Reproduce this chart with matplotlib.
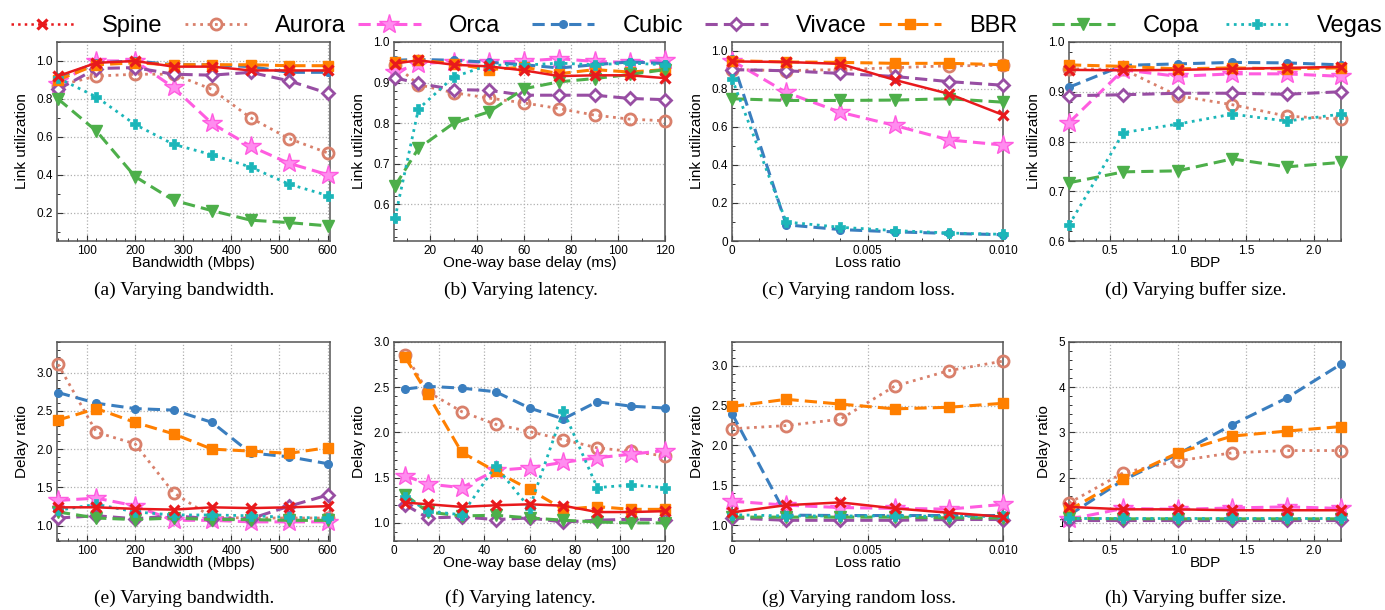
import matplotlib
matplotlib.use("Agg")
import matplotlib.pyplot as plt
from matplotlib.lines import Line2D
from matplotlib.ticker import MultipleLocator, FuncFormatter

plt.rcParams['font.family'] = ['Liberation Sans', 'DejaVu Sans']

# ---------------- data ----------------
names = ["Spine", "Aurora", "Orca", "Cubic", "Vivace", "BBR", "Copa", "Vegas"]

bw = [40, 120, 200, 280, 360, 440, 520, 600]
lat = [5, 15, 30, 45, 60, 75, 90, 105, 120]
loss = [0, 0.002, 0.004, 0.006, 0.008, 0.010]
bdp = [0.2, 0.6, 1.0, 1.4, 1.8, 2.2]

# (a) utilization vs bandwidth
util_bw = {
    "Spine":  [0.92, 0.99, 1.00, 0.97, 0.97, 0.95, 0.95, 0.95],
    "Aurora": [0.87, 0.92, 0.93, 0.93, 0.85, 0.70, 0.59, 0.515],
    "Orca":   [0.88, 1.00, 1.00, 0.86, 0.67, 0.55, 0.46, 0.40],
    "Cubic":  [0.91, 0.99, 1.00, 0.98, 0.98, 0.97, 0.94, 0.94],
    "Vivace": [0.85, 0.96, 0.965, 0.93, 0.925, 0.94, 0.895, 0.83],
    "BBR":    [0.90, 0.98, 0.99, 0.98, 0.98, 0.98, 0.975, 0.975],
    "Copa":   [0.80, 0.63, 0.39, 0.265, 0.21, 0.16, 0.147, 0.13],
    "Vegas":  [0.91, 0.81, 0.665, 0.56, 0.505, 0.44, 0.35, 0.29],
}
# (b) utilization vs latency
util_lat = {
    "Spine":  [0.947, 0.955, 0.944, 0.940, 0.930, 0.916, 0.918, 0.918, 0.911],
    "Aurora": [0.944, 0.895, 0.875, 0.862, 0.850, 0.836, 0.820, 0.810, 0.806],
    "Orca":   [0.925, 0.947, 0.951, 0.950, 0.953, 0.959, 0.952, 0.950, 0.955],
    "Cubic":  [0.955, 0.957, 0.955, 0.950, 0.944, 0.936, 0.944, 0.951, 0.947],
    "Vivace": [0.912, 0.898, 0.883, 0.881, 0.869, 0.869, 0.869, 0.861, 0.858],
    "BBR":    [0.951, 0.955, 0.947, 0.932, 0.938, 0.922, 0.932, 0.926, 0.932],
    "Copa":   [0.645, 0.738, 0.800, 0.828, 0.885, 0.902, 0.910, 0.920, 0.932],
    "Vegas":  [0.566, 0.835, 0.914, 0.943, 0.943, 0.948, 0.944, 0.948, 0.944],
}
# (c) utilization vs random loss
util_loss = {
    "Spine":  [0.943, 0.940, 0.930, 0.846, 0.773, 0.662],
    "Aurora": [0.900, 0.895, 0.900, 0.910, 0.920, 0.922],
    "Orca":   [0.947, 0.780, 0.676, 0.607, 0.531, 0.504],
    "Cubic":  [0.955, 0.085, 0.060, 0.048, 0.040, 0.033],
    "Vivace": [0.900, 0.894, 0.880, 0.864, 0.837, 0.818],
    "BBR":    [0.947, 0.940, 0.938, 0.933, 0.933, 0.926],
    "Copa":   [0.747, 0.738, 0.738, 0.740, 0.747, 0.729],
    "Vegas":  [0.853, 0.100, 0.072, 0.055, 0.042, 0.035],
}
# (d) utilization vs buffer size
util_buf = {
    "Spine":  [0.944, 0.943, 0.944, 0.946, 0.948, 0.950],
    "Aurora": [0.946, 0.945, 0.892, 0.874, 0.851, 0.845],
    "Orca":   [0.838, 0.944, 0.931, 0.936, 0.936, 0.931],
    "Cubic":  [0.909, 0.953, 0.956, 0.959, 0.958, 0.954],
    "Vivace": [0.892, 0.894, 0.897, 0.897, 0.895, 0.900],
    "BBR":    [0.954, 0.951, 0.946, 0.948, 0.946, 0.948],
    "Copa":   [0.717, 0.739, 0.741, 0.765, 0.749, 0.758],
    "Vegas":  [0.632, 0.818, 0.835, 0.855, 0.841, 0.855],
}
# (e) delay ratio vs bandwidth
delay_bw = {
    "Spine":  [1.24, 1.24, 1.22, 1.21, 1.24, 1.23, 1.24, 1.255],
    "Aurora": [3.11, 2.22, 2.07, 1.43, 1.11, 1.10, 1.10, 1.10],
    "Orca":   [1.33, 1.36, 1.26, 1.07, 1.07, 1.05, 1.05, 1.05],
    "Cubic":  [2.74, 2.60, 2.53, 2.51, 2.35, 1.95, 1.90, 1.81],
    "Vivace": [1.10, 1.13, 1.09, 1.13, 1.09, 1.09, 1.255, 1.40],
    "BBR":    [2.38, 2.53, 2.35, 2.20, 2.00, 1.975, 1.945, 2.02],
    "Copa":   [1.18, 1.10, 1.08, 1.10, 1.08, 1.08, 1.07, 1.07],
    "Vegas":  [1.20, 1.28, 1.18, 1.14, 1.14, 1.13, 1.11, 1.10],
}
# (f) delay ratio vs latency
delay_lat = {
    "Spine":  [1.225, 1.206, 1.177, 1.195, 1.206, 1.19, 1.12, 1.12, 1.13],
    "Aurora": [2.86, 2.45, 2.23, 2.09, 2.01, 1.92, 1.83, 1.79, 1.74],
    "Orca":   [1.52, 1.43, 1.39, 1.58, 1.61, 1.67, 1.72, 1.76, 1.80],
    "Cubic":  [2.48, 2.51, 2.49, 2.45, 2.27, 2.15, 2.34, 2.29, 2.27],
    "Vivace": [1.20, 1.055, 1.066, 1.037, 1.055, 1.01, 1.03, 1.04, 1.037],
    "BBR":    [2.83, 2.42, 1.78, 1.57, 1.37, 1.15, 1.18, 1.15, 1.15],
    "Copa":   [1.31, 1.12, 1.077, 1.085, 1.055, 1.03, 1.01, 1.00, 1.00],
    "Vegas":  [1.29, 1.13, 1.09, 1.63, 1.165, 2.24, 1.39, 1.42, 1.39],
}
# (g) delay ratio vs random loss
delay_loss = {
    "Spine":  [1.16, 1.25, 1.285, 1.21, 1.155, 1.105],
    "Aurora": [2.21, 2.25, 2.33, 2.745, 2.94, 3.06],
    "Orca":   [1.30, 1.25, 1.22, 1.21, 1.20, 1.26],
    "Cubic":  [2.40, 1.125, 1.12, 1.12, 1.12, 1.12],
    "Vivace": [1.09, 1.06, 1.06, 1.06, 1.07, 1.07],
    "BBR":    [2.49, 2.58, 2.52, 2.46, 2.48, 2.53],
    "Copa":   [1.10, 1.10, 1.10, 1.10, 1.09, 1.09],
    "Vegas":  [1.13, 1.115, 1.115, 1.115, 1.11, 1.11],
}
# (h) delay ratio vs buffer size
delay_buf = {
    "Spine":  [1.355, 1.30, 1.30, 1.28, 1.28, 1.28],
    "Aurora": [1.44, 2.11, 2.37, 2.55, 2.60, 2.60],
    "Orca":   [1.08, 1.32, 1.30, 1.33, 1.355, 1.32],
    "Cubic":  [1.17, 1.95, 2.52, 3.17, 3.76, 4.51],
    "Vivace": [1.07, 1.07, 1.07, 1.07, 1.07, 1.07],
    "BBR":    [1.28, 1.98, 2.55, 2.92, 3.03, 3.13],
    "Copa":   [1.10, 1.09, 1.09, 1.09, 1.09, 1.09],
    "Vegas":  [1.10, 1.10, 1.10, 1.10, 1.10, 1.10],
}

captions = ["(a) Varying bandwidth.", "(b) Varying latency.",
            "(c) Varying random loss.", "(d) Varying buffer size.",
            "(e) Varying bandwidth.", "(f) Varying latency.",
            "(g) Varying random loss.", "(h) Varying buffer size."]

# ---------------- styles ----------------
styles = {
    "Spine":  dict(color="#e8191c", ls="-", marker="x", ms=7.5, mew=2.3, lw=1.8),
    "Aurora": dict(color="#d9806b", ls=":", marker="o", ms=8, mew=2.0, mfc="none", lw=2.0),
    "Orca":   dict(color="#ff5ce0", ls=(0, (4, 2)), marker="*", ms=15, mew=1.0,
                   mfc="#ff8cef", lw=2.2),
    "Cubic":  dict(color="#3a7ebf", ls=(0, (4, 2)), marker="o", ms=5.5, lw=2.2),
    "Vivace": dict(color="#984ea3", ls=(0, (4, 2)), marker="D", ms=6.5, mew=2.0,
                   mfc="white", lw=2.2),
    "BBR":    dict(color="#ff7f00", ls=(0, (4, 2)), marker="s", ms=7, lw=2.2),
    "Copa":   dict(color="#4daf4a", ls=(0, (4, 2)), marker="v", ms=8, lw=2.2),
    "Vegas":  dict(color="#1bb6b9", ls=":", marker="P", ms=7, mew=0.5, lw=2.0),
}
draw_order = ["Aurora", "Orca", "Cubic", "Vivace", "BBR", "Copa", "Vegas", "Spine"]

W, H = 1385, 610
fig = plt.figure(figsize=(W / 100, H / 100), dpi=100)

col_px = [(57, 330), (394, 665), (732, 1003), (1069, 1341)]
row_px = [(42, 241), (342, 541)]

def ax_at(r, c):
    l, rr = col_px[c]
    t, b = row_px[r]
    return fig.add_axes([l / W, 1 - b / H, (rr - l) / W, (b - t) / H])

panels = [
    # x, data, xlabel, ylabel, xlim, ylim, xmaj, xmin, ymaj, ymin, xfmt, yfmt
    (bw, util_bw, "Bandwidth (Mbps)", "Link utilization", (38, 605), (0.05, 1.1),
     [100, 200, 300, 400, 500, 600], 20, [0.2, 0.4, 0.6, 0.8, 1.0], 0.1, "%d", "%.1f"),
    (lat, util_lat, "One-way base delay (ms)", "Link utilization", (4.6, 120), (0.51, 1.0),
     [20, 40, 60, 80, 100, 120], 10, [0.6, 0.7, 0.8, 0.9, 1.0], 0.02, "%d", "%.1f"),
    (loss, util_loss, "Loss ratio", "Link utilization", (0, 0.010), (0, 1.045),
     [0, 0.005, 0.010], 0.001, [0, 0.2, 0.4, 0.6, 0.8, 1.0], 0.1, "loss", "zero"),
    (bdp, util_buf, "BDP", "Link utilization", (0.2, 2.2), (0.6, 1.0),
     [0.5, 1.0, 1.5, 2.0], 0.1, [0.6, 0.7, 0.8, 0.9, 1.0], 0.02, "%.1f", "%.1f"),
    (bw, delay_bw, "Bandwidth (Mbps)", "Delay ratio", (38, 605), (0.8, 3.4),
     [100, 200, 300, 400, 500, 600], 20, [1.0, 1.5, 2.0, 2.5, 3.0], 0.1, "%d", "%.1f"),
    (lat, delay_lat, "One-way base delay (ms)", "Delay ratio", (0, 120), (0.8, 3.0),
     [0, 20, 40, 60, 80, 100, 120], 10, [1.0, 1.5, 2.0, 2.5, 3.0], 0.1, "%d", "%.1f"),
    (loss, delay_loss, "Loss ratio", "Delay ratio", (0, 0.010), (0.8, 3.3),
     [0, 0.005, 0.010], 0.001, [1.0, 1.5, 2.0, 2.5, 3.0], 0.1, "loss", "%.1f"),
    (bdp, delay_buf, "BDP", "Delay ratio", (0.2, 2.2), (0.6, 5.0),
     [0.5, 1.0, 1.5, 2.0], 0.1, [1, 2, 3, 4, 5], 0.2, "%.1f", "%d"),
]

def make_fmt(spec):
    if spec == "loss":
        return FuncFormatter(lambda v, p: "0" if abs(v) < 1e-12 else "%.3f" % v)
    if spec == "zero":
        return FuncFormatter(lambda v, p: "0" if abs(v) < 1e-12 else "%.1f" % v)
    return FuncFormatter(lambda v, p, s=spec: s % v)

for i, (x, data, xl, yl, xlim, ylim, xmaj, xmin, ymaj, ymin, xf, yf) in enumerate(panels):
    r, c = divmod(i, 4)
    ax = ax_at(r, c)
    for z, n in enumerate(draw_order):
        st = dict(styles[n])
        ls = st.pop("ls")
        ax.plot(x, data[n], linestyle=ls, zorder=3 + z, clip_on=False, **st)
    ax.set_xlim(*xlim)
    ax.set_ylim(*ylim)
    ax.set_xticks(xmaj)
    ax.set_yticks(ymaj)
    ax.xaxis.set_minor_locator(MultipleLocator(xmin))
    ax.yaxis.set_minor_locator(MultipleLocator(ymin))
    ax.xaxis.set_major_formatter(make_fmt(xf))
    ax.yaxis.set_major_formatter(make_fmt(yf))
    ax.grid(True, which="major", ls=":", color="#b0b0b0", lw=0.9, zorder=0)
    ax.tick_params(which="both", direction="in", labelsize=8.5, color="#333333", pad=3)
    ax.tick_params(which="major", length=4, width=0.8)
    ax.tick_params(which="minor", length=2.2, width=0.7)
    for sp in ax.spines.values():
        sp.set_color("#555555")
        sp.set_linewidth(1.1)
    ax.set_xlabel(xl, fontsize=11, labelpad=-0.5)
    ax.set_ylabel(yl, fontsize=11, labelpad=5)
    l, rr = col_px[c]
    cx = (l + rr) / 2 - 9
    cy = 290 if r == 0 else 598
    fig.text(cx / W, 1 - cy / H, captions[i], ha="center", va="center",
             fontsize=14, family=["Liberation Serif", "DejaVu Serif"])

# ---------------- legend ----------------
for k, n in enumerate(names):
    st = dict(styles[n])
    ls = st.pop("ls")
    if n == "Spine":
        ls = ":"
    h = Line2D([], [], linestyle=ls, **st)
    x0 = (11 + k * 173.5) / W
    fig.legend(handles=[h], labels=[n], loc="center left",
               bbox_to_anchor=(x0, 1 - 26 / H), frameon=False, fontsize=17,
               handlelength=2.65, handletextpad=1.2, borderpad=0,
               borderaxespad=0)

fig.savefig("out.png", dpi=100)
